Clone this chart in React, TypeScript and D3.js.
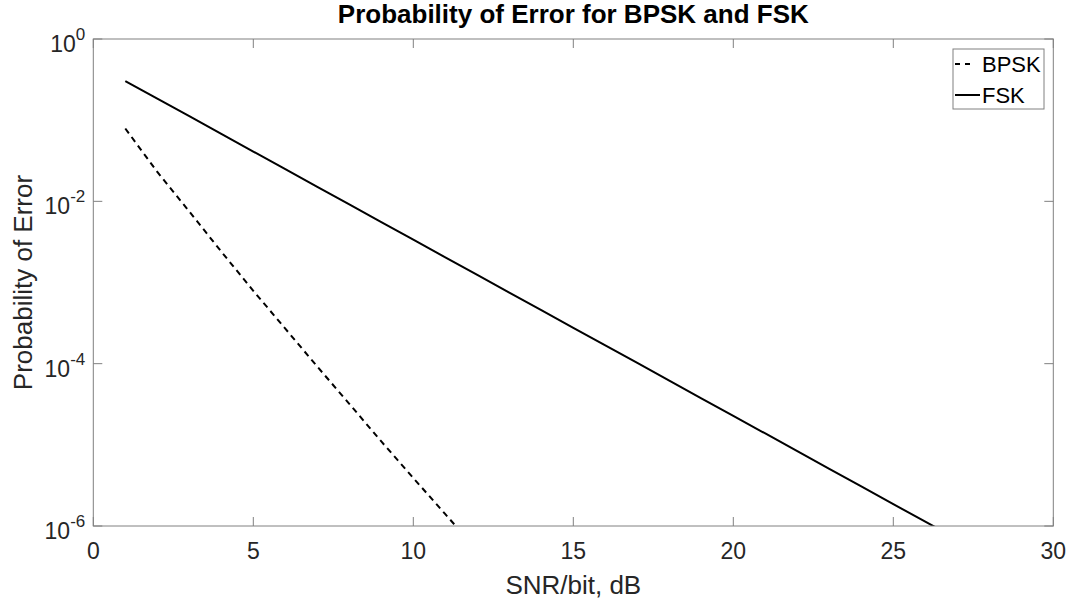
import * as d3 from "d3";
import React from "react";

// SNR/bit points (dB) and the error probabilities
const bpskSnr = [1, 2, 3, 4, 5, 6, 7, 8, 9, 10, 11, 12];
const bpskPe = [0.079, 0.023, 0.0075, 0.0024, 7.9e-4, 2.7e-4, 9.2e-5, 3.2e-5, 1.1e-5, 3.9e-6, 1.4e-6, 5.0e-7];

const fskSnr = [1, 2, 3, 4, 5, 6, 7, 8, 9, 10, 11, 12, 13, 14, 15, 16, 17, 18, 19, 20, 21, 22, 23, 24, 25, 26, 27];
const fskPe = [
  0.303, 0.184, 0.112, 0.0677, 0.041, 0.0249, 0.0151, 0.00916, 0.00555, 0.00337, 0.00204, 0.00124, 7.5e-4, 4.56e-4,
  2.77e-4, 1.68e-4, 1.02e-4, 6.17e-5, 3.74e-5, 2.27e-5, 1.38e-5, 8.35e-6, 5.07e-6, 3.07e-6, 1.86e-6, 1.13e-6, 6.9e-7,
];

const xTicks = [0, 5, 10, 15, 20, 25, 30];
const yTickExp = [0, -2, -4, -6];
const legendNames = ["BPSK", "FSK"];

const W = 1072;
const H = 600;
const m = { left: 93.3, right: 1053.3, top: 39, bottom: 526 };
const font = "'Liberation Sans', Arial, Helvetica, sans-serif";
const axisColor = "#808080";
const textColor = "#262626";
const tickLen = 9;

export default function App() {
  const x = d3.scaleLinear().domain([0, 30]).range([m.left, m.right]);
  const y = d3.scaleLog().domain([1e-6, 1]).range([m.bottom, m.top]);

  const line = d3
    .line<[number, number]>()
    .x((d) => x(d[0]))
    .y((d) => y(d[1]));

  const bpskPath = line(bpskSnr.map((s, i) => [s, bpskPe[i]]));
  const fskPath = line(fskSnr.map((s, i) => [s, fskPe[i]]));

  const dash = "6,4.6";

  return (
    <svg
      width={W}
      height={H}
      style={{ position: "absolute", left: 0, top: 0, background: "#fff" }}
      fontFamily={font}
    >
      <defs>
        <clipPath id="plot">
          <rect x={m.left} y={m.top} width={m.right - m.left} height={m.bottom - m.top} />
        </clipPath>
      </defs>

      {/* title */}
      <text x={(m.left + m.right) / 2} y={23} textAnchor="middle" fontSize={26} fontWeight="bold" fill="#000">
        Probability of Error for BPSK and FSK
      </text>

      {/* data */}
      <g clipPath="url(#plot)" fill="none" stroke="#000" strokeWidth={2}>
        <path d={fskPath} />
        <path d={bpskPath} strokeDasharray={dash} />
      </g>

      {/* box */}
      <rect
        x={m.left}
        y={m.top}
        width={m.right - m.left}
        height={m.bottom - m.top}
        fill="none"
        stroke={axisColor}
        strokeWidth={1}
      />

      {/* x ticks */}
      {xTicks.map((t) => (
        <g key={"x" + t}>
          <line x1={x(t)} x2={x(t)} y1={m.bottom} y2={m.bottom - tickLen} stroke={axisColor} />
          <line x1={x(t)} x2={x(t)} y1={m.top} y2={m.top + tickLen} stroke={axisColor} />
          <text x={x(t)} y={m.bottom + 33} textAnchor="middle" fontSize={23} fill={textColor}>
            {t}
          </text>
        </g>
      ))}

      {/* y ticks */}
      {yTickExp.map((e) => {
        const yy = y(Math.pow(10, e));
        return (
          <g key={"y" + e}>
            <line x1={m.left} x2={m.left + tickLen} y1={yy} y2={yy} stroke={axisColor} />
            <line x1={m.right} x2={m.right - tickLen} y1={yy} y2={yy} stroke={axisColor} />
            <text x={m.left - 8} y={yy + 13} textAnchor="end" fontSize={23} fill={textColor}>
              <tspan>10</tspan>
              <tspan dy={-12} fontSize={17}>
                {e === 0 ? "0" : "-" + Math.abs(e)}
              </tspan>
            </text>
          </g>
        );
      })}

      {/* axis labels */}
      <text x={(m.left + m.right) / 2} y={594} textAnchor="middle" fontSize={26} fill={textColor}>
        SNR/bit, dB
      </text>
      <text
        transform={`translate(32,${(m.top + m.bottom) / 2}) rotate(-90)`}
        textAnchor="middle"
        fontSize={26}
        fill={textColor}
      >
        Probability of Error
      </text>

      {/* legend */}
      <g>
        <rect x={953} y={49} width={91} height={60} fill="#fff" stroke={axisColor} strokeWidth={1} />
        {legendNames.map((n, i) => {
          const ly = 64 + i * 31;
          return (
            <g key={n}>
              <line
                x1={955}
                x2={i === 0 ? 971 : 980}
                y1={ly}
                y2={ly}
                stroke="#000"
                strokeWidth={2}
                strokeDasharray={i === 0 ? "5,5" : undefined}
              />
              <text x={982} y={ly + 7.5} fontSize={22} fill="#000">
                {n}
              </text>
            </g>
          );
        })}
      </g>
    </svg>
  );
}
